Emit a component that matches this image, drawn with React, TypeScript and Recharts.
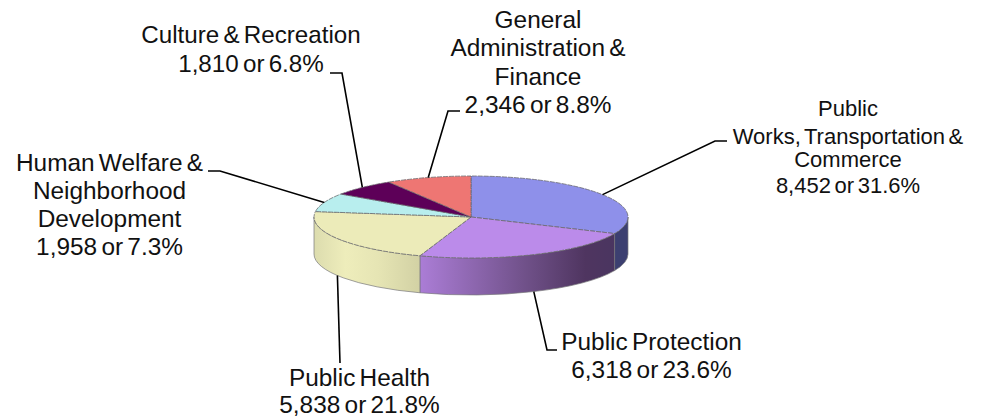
import { Pie, PieChart } from 'recharts';

const categories = [
  'Public Works, Transportation & Commerce',
  'Public Protection',
  'Public Health',
  'Human Welfare & Neighborhood Development',
  'Culture & Recreation',
  'General Administration & Finance',
];
const values = [8452, 6318, 5838, 1958, 1810, 2346];
const shares = ['31.6%', '23.6%', '21.8%', '7.3%', '6.8%', '8.8%'];
const nameLines = [
  ['Public', 'Works, Transportation &', 'Commerce'],
  ['Public Protection'],
  ['Public Health'],
  ['Human Welfare &', 'Neighborhood', 'Development'],
  ['Culture & Recreation'],
  ['General', 'Administration &', 'Finance'],
];

const topColors = ['#8e90ea', '#bb8bea', '#ecebb9', '#b8eeee', '#5d0058', '#ee7673'];
const wallFills = ['#3c3f70', 'url(#wallPurple)', 'url(#wallYellow)', 'none', 'none', 'none'];

// label placement: text centre, baselines, leader elbow and end
const labelX = [848, 651.5, 359.5, 109.5, 251, 538];
const labelSizes = [22, 24.4, 24.4, 24.4, 24.2, 24.4];
const labelBaselines = [
  [116, 144, 167, 193],
  [350, 378],
  [386, 413],
  [171, 199, 227, 255],
  [43, 72],
  [28, 56, 85, 113],
];
const leaderPaths = [
  [[715, 141], [727, 141]],
  [[547, 350], [557, 350]],
  [[340, 363]],
  [[220, 171], [208, 171]],
  [[342, 73], [330, 73]],
  [[448, 111], [460, 111]],
];

const RX = 157;
const RY = 41;
const DEPTH = 37;
const RAD = Math.PI / 180;

const pieData = categories.map((name, i) => ({ name, value: values[i], fill: topColors[i] }));

const rimPoint = (cx: number, cy: number, angle: number) => ({
  x: cx + RX * Math.cos(angle * RAD),
  y: cy - RY * Math.sin(angle * RAD),
});

// flat Recharts sector -> tilted slice with a side wall
function TiltedSlice(props: any) {
  const { cx, cy, startAngle, endAngle, index, fill } = props;
  const from = rimPoint(cx, cy, startAngle);
  const to = rimPoint(cx, cy, endAngle);
  const large = Math.abs(startAngle - endAngle) > 180 ? 1 : 0;
  const top = `M${cx},${cy}L${from.x},${from.y}A${RX},${RY} 0 ${large} 1 ${to.x},${to.y}Z`;

  const wallStart = Math.min(startAngle, 0);
  const wallEnd = Math.max(endAngle, -180);
  let wall = null;
  if (wallStart > wallEnd) {
    const a = rimPoint(cx, cy, wallStart);
    const b = rimPoint(cx, cy, wallEnd);
    const d =
      `M${a.x},${a.y}A${RX},${RY} 0 0 1 ${b.x},${b.y}` +
      `L${b.x},${b.y + DEPTH}A${RX},${RY} 0 0 0 ${a.x},${a.y + DEPTH}Z`;
    wall = <path d={d} fill={wallFills[index]} stroke="#77777a" strokeWidth={1} strokeOpacity={0.7} />;
  }

  return (
    <g>
      {wall}
      <path d={top} fill={fill} stroke="#66666a" strokeWidth={1} strokeOpacity={0.75} strokeDasharray="5 1" />
    </g>
  );
}

function SliceLabel(props: any) {
  const { cx, cy, midAngle, index, value } = props;
  const rim = rimPoint(cx, cy, midAngle);
  const front = Math.sin(midAngle * RAD) < -0.3;
  const startY = front ? rim.y + DEPTH : rim.y;
  const points = [[rim.x, startY], ...leaderPaths[index]];
  const lines = [...nameLines[index], `${value.toLocaleString('en-US')} or ${shares[index]}`];

  return (
    <g>
      <polyline
        points={points.map((p) => p.join(',')).join(' ')}
        fill="none"
        stroke="#000000"
        strokeWidth={1.6}
      />
      {lines.map((line, i) => (
        <text
          key={line}
          x={labelX[index]}
          y={labelBaselines[index][i]}
          textAnchor="middle"
          fontFamily="Liberation Sans"
          fontSize={labelSizes[index]}
          wordSpacing={-2.5}
          fill="#111111"
        >
          {line}
        </text>
      ))}
    </g>
  );
}

export default function App() {
  return (
    <div style={{ position: 'absolute', left: 0, top: 0, width: 981, height: 418, background: '#ffffff' }}>
      <PieChart width={981} height={418} margin={{ top: 0, right: 0, bottom: 0, left: 0 }}>
        <defs>
          <linearGradient id="wallPurple" x1="0" y1="0" x2="1" y2="0">
            <stop offset="0" stopColor="#ab7dd6" />
            <stop offset="0.55" stopColor="#6f5088" />
            <stop offset="0.85" stopColor="#4f3560" />
            <stop offset="1" stopColor="#4a3560" />
          </linearGradient>
          <linearGradient id="wallYellow" x1="0" y1="0" x2="1" y2="0">
            <stop offset="0" stopColor="#dcdcae" />
            <stop offset="0.3" stopColor="#eeedbb" />
            <stop offset="0.6" stopColor="#e6e5b4" />
            <stop offset="1" stopColor="#d2d1a4" />
          </linearGradient>
        </defs>
        <Pie
          data={pieData}
          dataKey="value"
          nameKey="name"
          cx={471}
          cy={217}
          outerRadius={RX}
          startAngle={90}
          endAngle={-270}
          paddingAngle={0}
          stroke="none"
          shape={TiltedSlice}
          label={SliceLabel}
          labelLine={false}
          isAnimationActive={false}
        />
      </PieChart>
    </div>
  );
}
